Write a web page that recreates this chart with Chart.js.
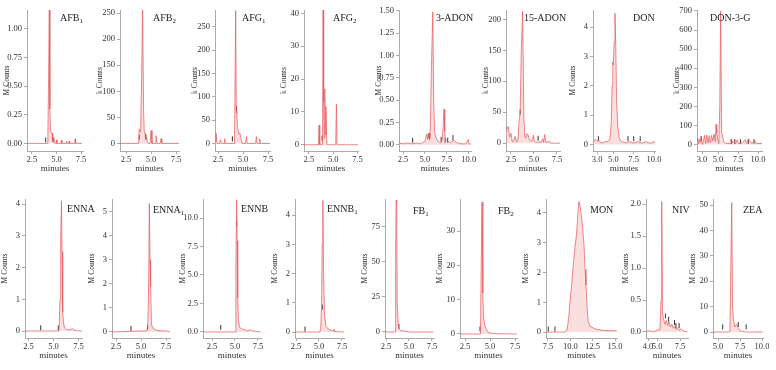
<!DOCTYPE html>
<html>
<head>
<meta charset="utf-8">
<script src="https://cdn.jsdelivr.net/npm/chart.js@4"></script>
<style>
  body { margin: 0; background: #fff; width: 776px; height: 370px; position: relative; overflow: hidden; font-family: "Liberation Serif", serif; }
  canvas { position: absolute; }
  .name { position: absolute; font-size: 10px; color: #222; white-space: nowrap; line-height: 1; }
  .name sub { font-size: 7px; vertical-align: -2px; line-height: 0; }
</style>
</head>
<body>
<script>
// =====================
// Data
// =====================
const panelNames = ["AFB<sub>1</sub>", "AFB<sub>2</sub>", "AFG<sub>1</sub>", "AFG<sub>2</sub>", "3-ADON", "15-ADON", "DON", "DON-3-G",
  "ENNA", "ENNA<sub>1</sub>", "ENNB", "ENNB<sub>1</sub>", "FB<sub>1</sub>", "FB<sub>2</sub>", "MON", "NIV", "ZEA"];
const unitLabels = ["M Counts", "k Counts", "k Counts", "k Counts", "M Counts", "k Counts", "M Counts", "k Counts",
  "M Counts", "M Counts", "M Counts", "M Counts", "M Counts", "M Counts", "M Counts", "M Counts", "M Counts"];

// x tick labels (minutes)
const ticks25to75 = [2.5, 5.0, 7.5];
const ticks25to10 = [2.5, 5.0, 7.5, 10.0];
const ticks3to10 = [3.0, 5.0, 7.5, 10.0];
const monXTicks = [7.5, 10.0, 12.5, 15.0];
const nivXTicks = [4.0, 5.0, 7.5];
const zeaXTicks = [5.0, 7.5, 10.0];

// y tick labels
const afb1YTicks = [0, 0.25, 0.5, 0.75, 1.0];
const afb2YTicks = [0, 50, 100, 150, 200, 250];
const afg1YTicks = [0, 50, 100, 150, 200, 250];
const afg2YTicks = [0, 10, 20, 30, 40];
const adon3YTicks = [0, 0.25, 0.5, 0.75, 1.0, 1.25, 1.5];
const adon15YTicks = [0, 50, 100, 150, 200];
const donYTicks = [0, 1, 2, 3, 4];
const don3gYTicks = [0, 100, 200, 300, 400, 500, 600, 700];
const ennaYTicks = [0, 1, 2, 3, 4];
const enna1YTicks = [0, 1, 2, 3, 4, 5];
const ennbYTicks = [0, 2.5, 5.0, 7.5, 10.0];
const ennb1YTicks = [0, 1, 2, 3, 4];
const fb1YTicks = [0, 25, 50, 75];
const fb2YTicks = [0, 10, 20, 30];
const monYTicks = [0, 1, 2, 3, 4];
const nivYTicks = [0, 0.5, 1.0, 1.5, 2.0];
const zeaYTicks = [0, 10, 20, 30, 40, 50];

// traces: retention time (min) and signal
const afb1Time = [2.0, 4.12, 4.2, 4.27, 4.33, 4.4, 4.55, 4.62, 4.68, 4.74, 4.95, 5.0, 5.05, 5.45, 5.5, 5.55, 6.0, 6.05, 6.1, 6.25, 6.3, 6.35, 6.85, 6.9, 6.95, 7.6];
const afb1Signal = [0, 0, 0.6, 1.2, 0.3, 0.1, 0.09, 0.02, 0.05, 0.01, 0, 0.03, 0, 0, 0.03, 0, 0, 0.02, 0, 0, 0.02, 0, 0, 0.04, 0, 0];
const afb1Marks = [[3.9, 0.03], [4.6, 0.04]];

const afb2Time = [1.9, 3.75, 3.82, 3.9, 3.98, 4.06, 4.16, 4.26, 4.33, 4.4, 4.45, 4.55, 4.62, 4.7, 4.9, 5.0, 5.1, 5.4, 5.5, 5.6, 5.92, 6.0, 6.08, 7.8];
const afb2Signal = [0, 0, 28, 22, 45, 120, 260, 60, 22, 20, 8, 12, 4, 0, 0, 25, 0, 0, 15, 0, 0, 9, 0, 0];
const afb2Marks = [[3.83, 12], [4.5, 12]];

const afg1Time = [2.2, 2.3, 2.4, 2.65, 2.74, 2.83, 3.1, 3.17, 3.25, 4.15, 4.27, 4.33, 4.38, 4.45, 4.5, 4.6, 4.7, 4.8, 4.9, 5.25, 5.34, 5.42, 6.25, 6.34, 6.42, 6.6, 6.67, 6.74, 7.7];
const afg1Signal = [5, 22, 0, 0, 8, 0, 0, 10, 0, 0, 285, 70, 65, 35, 30, 20, 22, 10, 0, 0, 15, 0, 0, 15, 0, 0, 10, 0, 0];
const afg1Marks = [[3.94, 10], [4.35, 75]];

const afg2Time = [2.0, 3.48, 3.55, 3.62, 3.9, 3.96, 4.02, 4.08, 4.14, 4.2, 4.26, 4.32, 4.38, 4.45, 5.26, 5.33, 5.4, 7.55];
const afg2Signal = [0, 0, 6, 0, 0, 41, 13, 2, 17, 3, 11.5, 2, 0, 0, 0, 12.3, 0, 0];
const afg2Marks = [[3.86, 2]];

const adon3Time = [2.0, 2.5, 3.0, 3.5, 4.0, 4.5, 5.0, 5.2, 5.3, 5.45, 5.55, 5.62, 5.75, 5.9, 6.0, 6.1, 6.25, 6.5, 6.8, 7.0, 7.1, 7.18, 7.26, 7.35, 7.6, 7.9, 8.3, 8.7, 9.2, 9.7, 9.95, 10.05, 10.26];
const adon3Signal = [0.02, 0.01, 0.02, 0.01, 0.02, 0.01, 0.04, 0.12, 0.06, 0.13, 0.05, 0.2, 0.9, 1.49, 0.5, 0.15, 0.08, 0.04, 0.02, 0.06, 0.25, 0.4, 0.15, 0.06, 0.04, 0.02, 0.05, 0.02, 0.01, 0.01, 0.06, 0.01, 0.01];
const adon3Marks = [[3.6, 0.05], [5.45, 0.1], [5.55, 0.1], [6.85, 0.06], [7.3, 0.05], [7.6, 0.05], [8.2, 0.08]];

const adon15Time = [1.96, 2.2, 2.35, 2.5, 2.65, 2.8, 2.95, 3.1, 3.25, 3.4, 3.5, 3.62, 3.77, 3.9, 4.0, 4.1, 4.2, 4.35, 4.5, 4.75, 4.95, 5.05, 5.2, 5.5, 5.8, 5.95, 6.05, 6.15, 6.3, 6.7, 6.8, 7.83];
const adon15Signal = [20, 27, 10, 16, 2, 4, 11, 2, 5, 40, 48, 150, 213, 40, 12, 8, 15, 14, 5, 3, 13, 3, 1, 2, 2, 7, 1, 14, 1, 3, 0, 0];
const adon15Marks = [[3.5, 50], [5.45, 8]];

const donTime = [2.5, 2.8, 3.0, 3.2, 3.5, 3.8, 4.1, 4.4, 4.6, 4.75, 4.85, 4.93, 5.0, 5.1, 5.2, 5.28, 5.4, 5.55, 5.7, 5.9, 6.2, 6.6, 7.0, 7.5, 8.0, 8.5, 9.0, 9.5, 10.0, 10.12];
const donSignal = [0.1, 0.18, 0.1, 0.15, 0.05, 0.08, 0.1, 0.12, 0.2, 0.8, 2.0, 2.8, 2.7, 3.5, 4.47, 3.6, 1.5, 0.6, 0.25, 0.12, 0.08, 0.06, 0.1, 0.05, 0.1, 0.05, 0.1, 0.04, 0.1, 0.08];
const donMarks = [[3.16, 0.2], [6.8, 0.2], [7.5, 0.2], [8.3, 0.2]];

const don3gTime = [2.4, 2.5, 2.6, 2.75, 2.9, 3.05, 3.2, 3.3, 3.45, 3.6, 3.75, 3.9, 4.05, 4.2, 4.35, 4.5, 4.65, 4.75, 4.85, 4.95, 5.1, 5.22, 5.33, 5.45, 5.55, 5.7, 6.0, 6.5, 6.6, 6.7, 7.0, 7.2, 7.4, 7.6, 8.0, 8.4, 8.6, 8.8, 9.2, 9.6, 9.8, 10.0, 10.5];
const don3gSignal = [35, 5, 30, 10, 45, 0, 20, 48, 5, 50, 8, 45, 10, 48, 20, 55, 15, 105, 60, 30, 5, 200, 700, 60, 50, 15, 5, 5, 25, 5, 20, 5, 25, 5, 10, 25, 5, 30, 5, 20, 5, 5, 5];
const don3gMarks = [[2.9, 30], [6.7, 15], [7.1, 15], [7.8, 15], [8.8, 15], [9.5, 15]];

const ennaTime = [2.15, 5.55, 5.65, 5.72, 5.8, 5.85, 5.92, 6.0, 6.1, 6.3, 6.6, 6.8, 6.9, 7.0, 7.3, 7.85];
const ennaSignal = [0, 0, 1.0, 3.0, 4.1, 2.5, 0.6, 0.25, 0.1, 0.05, 0.03, 0.06, 0.08, 0.04, 0.01, 0];
const ennaMarks = [[3.72, 0.1], [5.48, 0.1]];

const enna1Time = [2.1, 5.6, 5.7, 5.78, 5.83, 5.9, 5.96, 6.05, 6.2, 6.5, 6.8, 7.1, 7.4, 7.9];
const enna1Signal = [0, 0.05, 0.45, 2.5, 5.35, 3.0, 1.9, 0.3, 0.15, 0.08, 0.06, 0.04, 0.05, 0];
const enna1Marks = [[4.0, 0.15], [5.67, 0.2]];

const ennbTime = [1.6, 5.05, 5.1, 5.18, 5.24, 5.3, 5.38, 5.5, 5.7, 6.0, 6.4, 6.7, 6.9, 7.3, 7.8];
const ennbSignal = [0, 0, 6, 11.6, 8, 3, 1.0, 0.4, 0.3, 0.2, 0.1, 0.2, 0.1, 0.05, 0];
const ennbMarks = [[3.45, 0.4], [5.18, 9.5]];

const ennb1Time = [2.4, 5.1, 5.2, 5.28, 5.35, 5.42, 5.5, 5.6, 5.75, 6.0, 6.3, 6.55, 6.63, 6.7, 7.0, 7.7];
const ennb1Signal = [0, 0, 0.2, 0.9, 3.0, 4.5, 2.0, 0.6, 0.2, 0.1, 0.06, 0.03, 0.1, 0.02, 0.01, 0];
const ennb1Marks = [[3.48, 0.1], [5.38, 0.85]];

const fb1Time = [2.4, 3.5, 3.55, 3.6, 3.66, 3.72, 3.85, 3.95, 4.1, 5.0, 7.7];
const fb1Signal = [0, 0, 60, 94, 92, 20, 4, 2, 1, 0, 0];
const fb1Marks = [[3.9, 4]];

const fb2Time = [2.0, 4.05, 4.12, 4.2, 4.28, 4.35, 4.45, 4.6, 4.8, 5.2, 7.7];
const fb2Signal = [0, 0, 20, 38.5, 12, 5, 3, 1.5, 0.5, 0.1, 0];
const fb2Marks = [[4.0, 1.5]];

const monTime = [7.3, 9.4, 9.6, 9.8, 9.96, 10.15, 10.33, 10.5, 10.7, 10.85, 10.95, 11.1, 11.27, 11.4, 11.53, 11.65, 11.75, 11.88, 12.0, 12.2, 12.5, 12.8, 13.2, 13.6, 14.0, 14.5, 15.0, 15.2];
const monSignal = [0, 0, 0.05, 0.4, 1.0, 1.6, 2.25, 2.8, 3.3, 4.0, 4.38, 4.2, 3.83, 3.4, 2.92, 2.1, 1.58, 0.8, 0.35, 0.2, 0.15, 0.1, 0.08, 0.06, 0.05, 0.04, 0.05, 0.03];
const monMarks = [[7.53, 0.1], [8.28, 0.1]];

const nivTime = [3.8, 4.2, 4.6, 5.0, 5.3, 5.42, 5.5, 5.58, 5.7, 5.85, 6.0, 6.15, 6.3, 6.45, 6.6, 6.75, 6.9, 7.05, 7.2, 7.4, 7.6, 7.8, 8.0, 8.3];
const nivSignal = [0.01, 0.02, 0.0, 0.03, 0.04, 0.5, 2.04, 0.3, 0.2, 0.12, 0.18, 0.1, 0.16, 0.08, 0.12, 0.06, 0.09, 0.04, 0.07, 0.03, 0.05, 0.02, 0.01, 0.0];
const nivMarks = [[5.9, 0.25], [6.25, 0.2], [6.9, 0.15], [7.05, 0.1], [7.4, 0.1]];

const zeaTime = [4.45, 6.35, 6.45, 6.56, 6.65, 6.75, 6.9, 7.1, 7.3, 7.5, 7.8, 8.2, 10.1];
const zeaSignal = [0, 0, 25, 51, 10, 5, 2, 3, 1.5, 0.5, 0.2, 0, 0];
const zeaMarks = [[5.53, 2], [7.3, 3], [8.2, 2]];

// =====================
// Panel layout (page px) and axis ranges
// =====================
const panels = [
  { time: afb1Time, signal: afb1Signal, marks: afb1Marks, xTicks: ticks25to75, yTicks: afb1YTicks, dec: 2, L: 27, R: 83, T: 10, B: 150.5, xmin: 2.0, xmax: 7.7, ymin: -0.066, ymax: 1.164, nx: 60, ny: 13 },
  { time: afb2Time, signal: afb2Signal, marks: afb2Marks, xTicks: ticks25to75, yTicks: afb2YTicks, dec: 0, L: 120, R: 179, T: 10, B: 150.5, xmin: 1.9, xmax: 7.8, ymin: -14.5, ymax: 256, nx: 153, ny: 13 },
  { time: afg1Time, signal: afg1Signal, marks: afg1Marks, xTicks: ticks25to75, yTicks: afg1YTicks, dec: 0, L: 215, R: 270, T: 10, B: 150.5, xmin: 2.2, xmax: 7.7, ymin: -16.1, ymax: 286, nx: 242, ny: 13 },
  { time: afg2Time, signal: afg2Signal, marks: afg2Marks, xTicks: ticks25to75, yTicks: afg2YTicks, dec: 0, L: 304, R: 358, T: 10, B: 150.5, xmin: 2.0, xmax: 7.55, ymin: -1.9, ymax: 41, nx: 333, ny: 13 },
  { time: adon3Time, signal: adon3Signal, marks: adon3Marks, xTicks: ticks25to10, yTicks: adon3YTicks, dec: 2, L: 399, R: 471, T: 10, B: 150.5, xmin: 2.04, xmax: 10.26, ymin: -0.07, ymax: 1.51, nx: 436, ny: 13 },
  { time: adon15Time, signal: adon15Signal, marks: adon15Marks, xTicks: ticks25to75, yTicks: adon15YTicks, dec: 0, L: 506, R: 560, T: 10, B: 150.5, xmin: 1.96, xmax: 7.83, ymin: -12.6, ymax: 215, nx: 524, ny: 13 },
  { time: donTime, signal: donSignal, marks: donMarks, xTicks: ticks3to10, yTicks: donYTicks, dec: 0, L: 593, R: 655, T: 10, B: 150.5, xmin: 2.5, xmax: 10.12, ymin: -0.22, ymax: 4.58, nx: 633, ny: 13 },
  { time: don3gTime, signal: don3gSignal, marks: don3gMarks, xTicks: ticks3to10, yTicks: don3gYTicks, dec: 0, L: 697, R: 762, T: 10, B: 150.5, xmin: 2.37, xmax: 10.5, ymin: -34, ymax: 705, nx: 710, ny: 13 },
  { time: ennaTime, signal: ennaSignal, marks: ennaMarks, xTicks: ticks25to75, yTicks: ennaYTicks, dec: 0, L: 25, R: 82, T: 199, B: 338, xmin: 2.15, xmax: 7.85, ymin: -0.22, ymax: 4.16, nx: 67, ny: 204 },
  { time: enna1Time, signal: enna1Signal, marks: enna1Marks, xTicks: ticks25to75, yTicks: enna1YTicks, dec: 0, L: 112, R: 170, T: 199, B: 338, xmin: 2.1, xmax: 7.9, ymin: -0.25, ymax: 5.54, nx: 153, ny: 205 },
  { time: ennbTime, signal: ennbSignal, marks: ennbMarks, xTicks: ticks25to75, yTicks: ennbYTicks, dec: 1, L: 203, R: 261, T: 199, B: 338, xmin: 1.52, xmax: 7.83, ymin: -0.53, ymax: 11.67, nx: 241, ny: 204 },
  { time: ennb1Time, signal: ennb1Signal, marks: ennb1Marks, xTicks: ticks25to75, yTicks: ennb1YTicks, dec: 0, L: 295, R: 344, T: 199, B: 338, xmin: 2.39, xmax: 7.72, ymin: -0.205, ymax: 4.55, nx: 327, ny: 204 },
  { time: fb1Time, signal: fb1Signal, marks: fb1Marks, xTicks: ticks25to75, yTicks: fb1YTicks, dec: 0, L: 385, R: 434, T: 199, B: 338, xmin: 2.39, xmax: 7.72, ymin: -4.3, ymax: 95, nx: 413, ny: 206 },
  { time: fb2Time, signal: fb2Signal, marks: fb2Marks, xTicks: ticks25to75, yTicks: fb2YTicks, dec: 0, L: 460, R: 517, T: 199, B: 338, xmin: 2.0, xmax: 7.7, ymin: -1.17, ymax: 39.4, nx: 498, ny: 206 },
  { time: monTime, signal: monSignal, marks: monMarks, xTicks: monXTicks, yTicks: monYTicks, dec: 0, L: 546, R: 617, T: 199, B: 338, xmin: 7.28, xmax: 15.22, ymin: -0.2, ymax: 4.47, nx: 590, ny: 205 },
  { time: nivTime, signal: nivSignal, marks: nivMarks, xTicks: nivXTicks, yTicks: nivYTicks, dec: 1, L: 646, R: 688, T: 199, B: 338, xmin: 3.78, xmax: 8.37, ymin: -0.094, ymax: 2.08, nx: 672, ny: 205 },
  { time: zeaTime, signal: zeaSignal, marks: zeaMarks, xTicks: zeaXTicks, yTicks: zeaYTicks, dec: 0, L: 713, R: 763, T: 199, B: 338, xmin: 4.43, xmax: 10.11, ymin: -2.36, ymax: 52.4, nx: 743, ny: 205 }
];

const serif = "Liberation Serif";
const axisGray = "#aaa";
const yw = 24, xh = 23, padTop = 8, padRight = 6;

panels.forEach((p, i) => {
  const canvas = document.createElement("canvas");
  const w = Math.round(yw + (p.R - p.L) + padRight);
  const h = Math.round(padTop + (p.B - p.T) + xh);
  canvas.width = w;
  canvas.height = h;
  canvas.style.width = w + "px";
  canvas.style.height = h + "px";
  canvas.style.left = (p.L - yw) + "px";
  canvas.style.top = (p.T - padTop) + "px";
  document.body.appendChild(canvas);

  const name = document.createElement("div");
  name.className = "name";
  name.innerHTML = panelNames[i];
  name.style.left = p.nx + "px";
  name.style.top = p.ny + "px";
  document.body.appendChild(name);

  new Chart(canvas, {
    data: {
      datasets: [
        {
          type: "line",
          data: p.time.map((t, k) => ({ x: t, y: p.signal[k] })),
          borderColor: "rgba(230, 90, 90, 0.8)",
          borderWidth: 0.9,
          backgroundColor: "rgba(244, 160, 160, 0.35)",
          fill: "origin",
          pointRadius: 0,
          tension: 0
        },
        {
          type: "scatter",
          data: p.marks.map(m => ({ x: m[0], y: m[1] })),
          pointStyle: "line",
          rotation: 90,
          radius: 2.5,
          borderColor: "#333",
          borderWidth: 1
        }
      ]
    },
    options: {
      responsive: false,
      animation: false,
      devicePixelRatio: 1,
      layout: { padding: { top: padTop, right: padRight, left: 0, bottom: 0 } },
      plugins: { legend: { display: false }, tooltip: { enabled: false } },
      scales: {
        x: {
          type: "linear",
          min: p.xmin,
          max: p.xmax,
          afterBuildTicks: s => { s.ticks = p.xTicks.map(v => ({ value: v })); },
          afterFit: s => { s.height = xh; s.paddingLeft = 0; s.paddingRight = 0; },
          grid: { drawOnChartArea: false, tickLength: 3, color: axisGray },
          border: { color: axisGray },
          ticks: { font: { family: serif, size: 8.5 }, color: "#333", padding: 1, maxRotation: 0, autoSkip: false, callback: v => v.toFixed(1) },
          title: { display: true, text: "minutes", font: { family: serif, size: 9 }, color: "#333", padding: 0 }
        },
        y: {
          type: "linear",
          min: p.ymin,
          max: p.ymax,
          afterBuildTicks: s => { s.ticks = p.yTicks.map(v => ({ value: v })); },
          afterFit: s => { s.width = yw; s.paddingTop = 0; s.paddingBottom = 0; },
          grid: { drawOnChartArea: false, tickLength: 3, color: axisGray },
          border: { color: axisGray },
          ticks: { font: { family: serif, size: 8.5 }, color: "#333", padding: 2, autoSkip: false, callback: v => v.toFixed(p.dec) },
          title: { display: true, text: unitLabels[i], font: { family: serif, size: 7.5 }, color: "#333", padding: 0 }
        }
      }
    }
  });
});
</script>
</body>
</html>
